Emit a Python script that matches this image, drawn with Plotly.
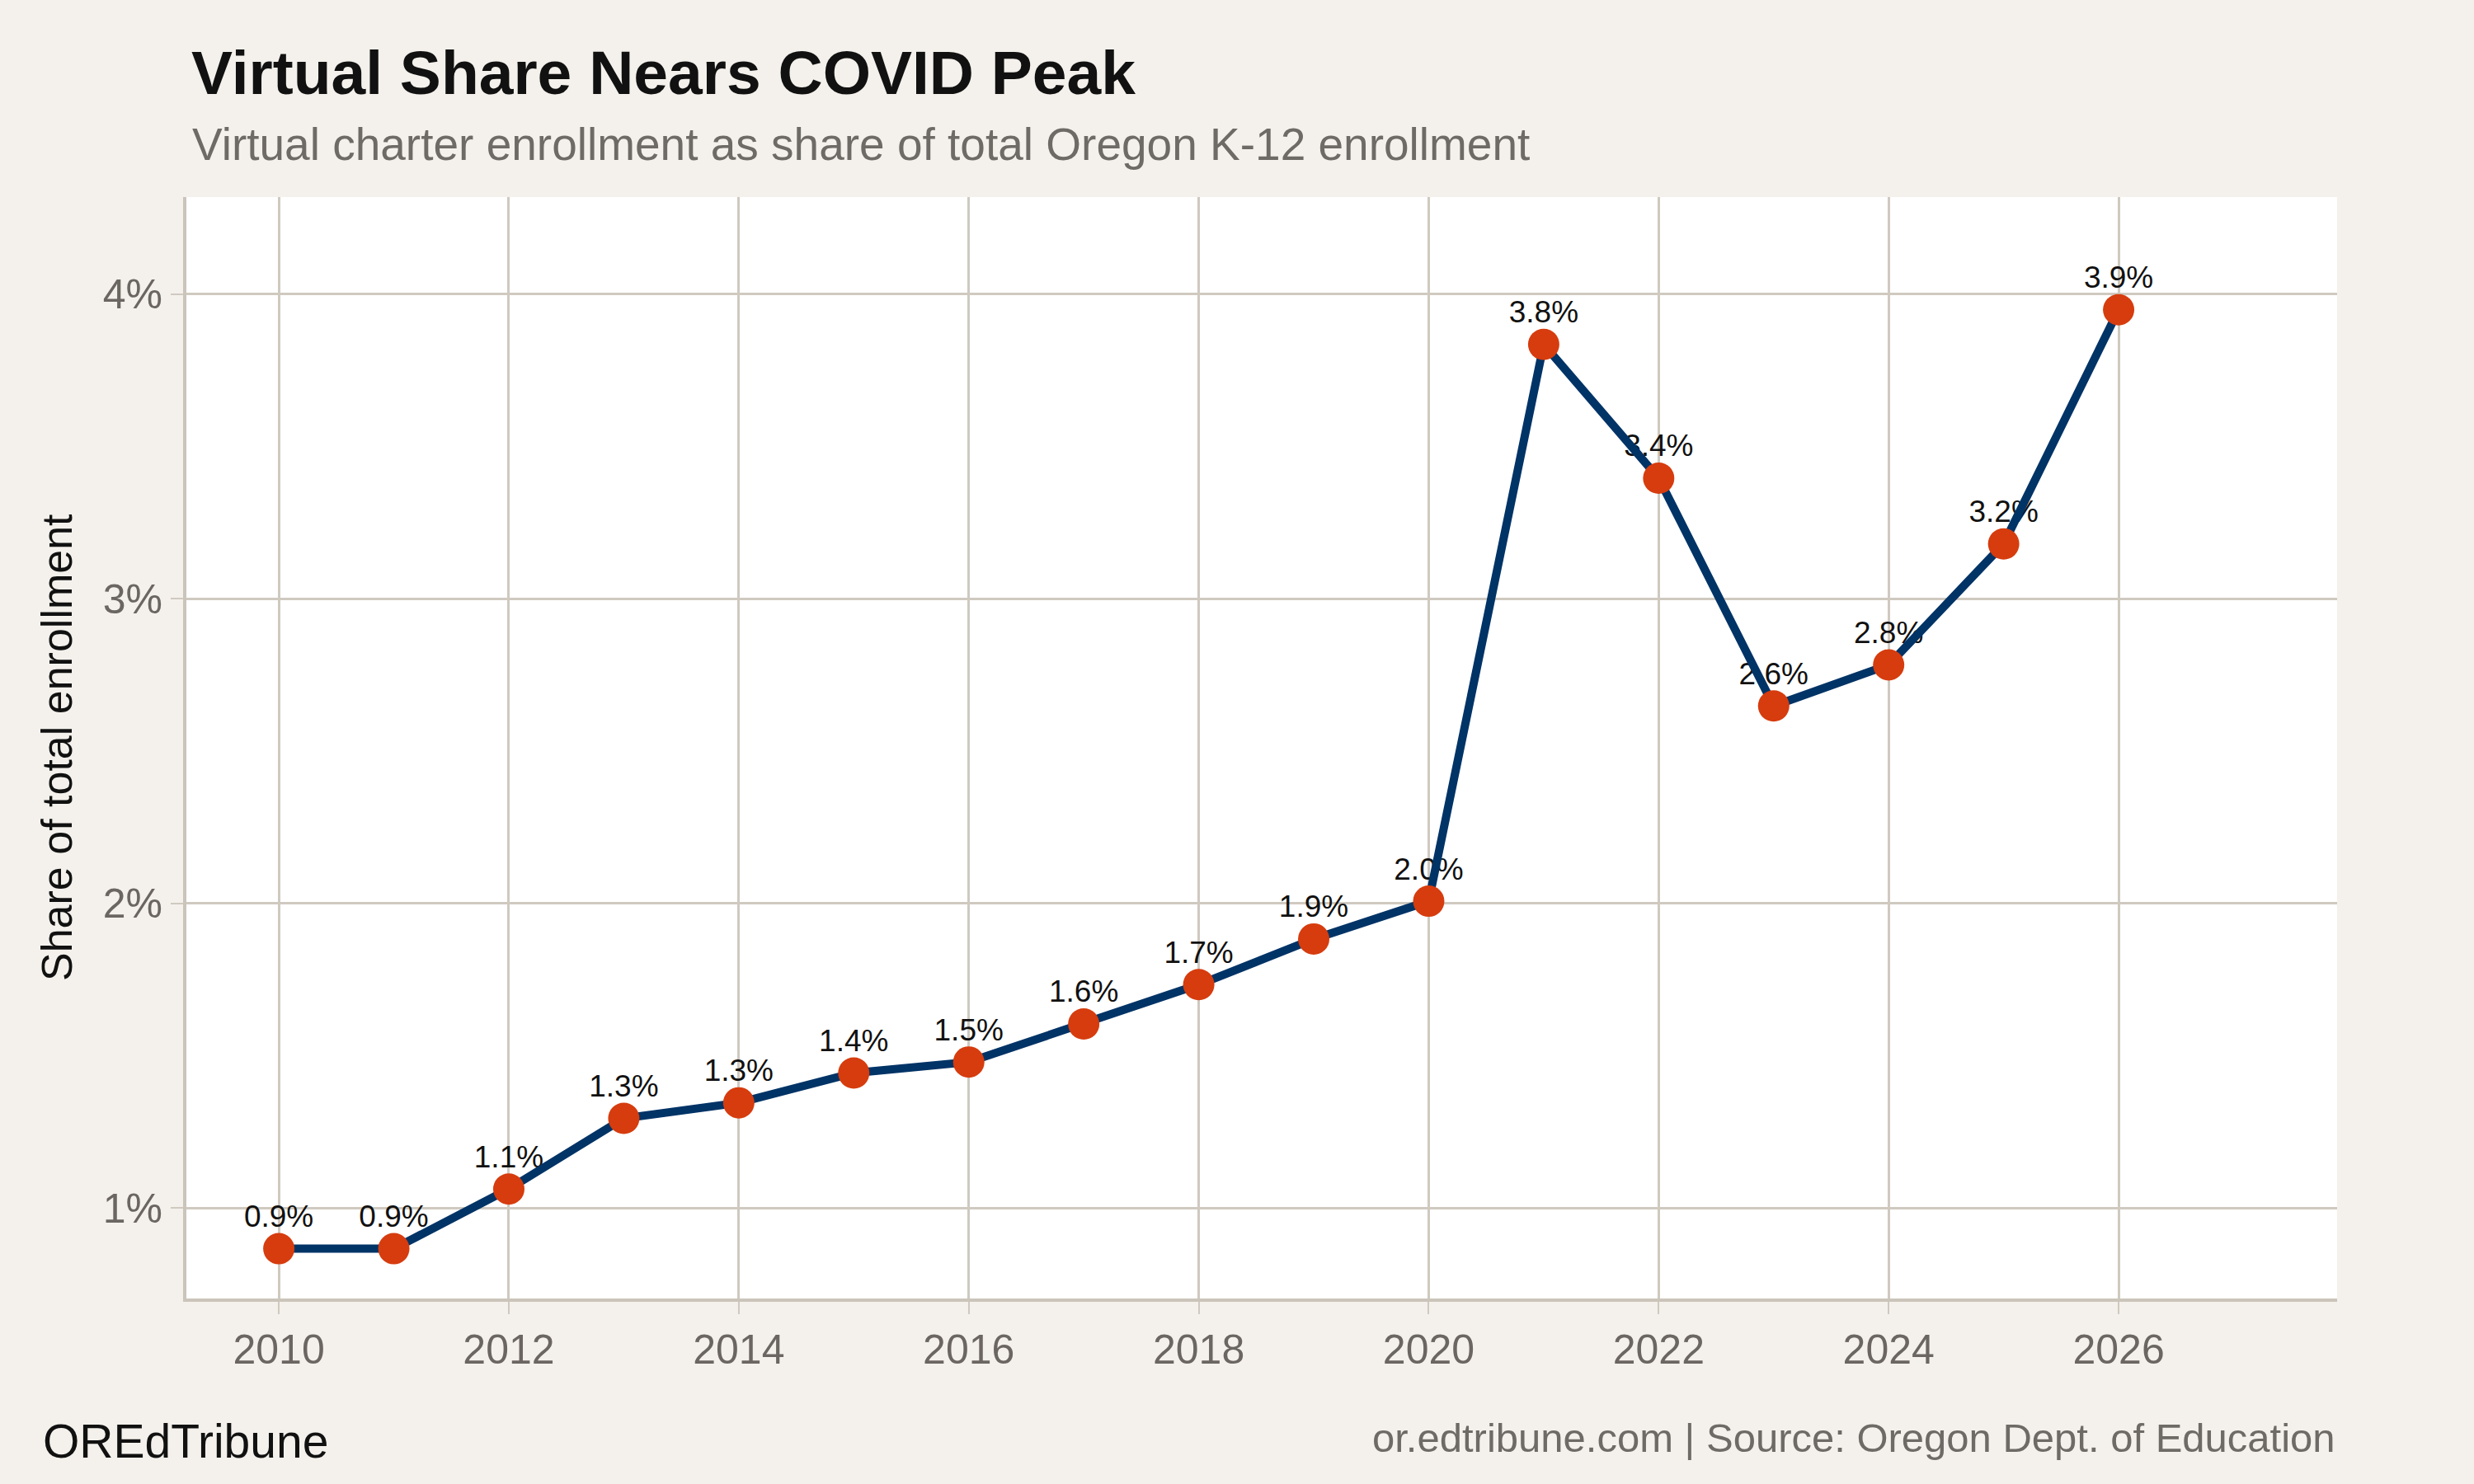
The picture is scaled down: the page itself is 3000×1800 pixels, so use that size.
import plotly.graph_objects as go

years = [2010, 2011, 2012, 2013, 2014, 2015, 2016, 2017, 2018, 2019, 2020,
         2021, 2022, 2023, 2024, 2025, 2026]
share_pct = [0.866, 0.866, 1.062, 1.294, 1.345, 1.443, 1.479, 1.604, 1.733,
             1.883, 2.007, 3.835, 3.396, 2.648, 2.783, 3.180, 3.949]
labels = [f"{v:.1f}%" for v in share_pct]
x_ticks = [2010, 2012, 2014, 2016, 2018, 2020, 2022, 2024, 2026]
y_ticks = [1, 2, 3, 4]
y_tick_text = ["1%", "2%", "3%", "4%"]

FONT = "Liberation Sans, Arial, Helvetica, sans-serif"
BG = "#F4F1EC"
GRID = "#CFC9C0"
AXIS = "#CBC4BA"
TICKCOL = "#6B6661"
NAVY = "#003366"
ORANGE = "#D63C0E"

W, H = 3000, 1800
L, R, T, B = 226, 2834, 239, 1575
PW, PH = R - L, B - T


def px(xp):
    return (xp - L) / PW


def py(yp):
    return (B - yp) / PH


fig = go.Figure()

# labels first so the line is drawn over them
fig.add_trace(go.Scatter(
    x=years, y=share_pct, mode="markers+text", text=labels,
    textposition="top center",
    textfont=dict(family=FONT, size=37, color="#111111"),
    marker=dict(size=26, opacity=0),
    hoverinfo="skip", showlegend=False,
))

fig.add_trace(go.Scatter(
    x=years, y=share_pct, mode="lines+markers",
    line=dict(color=NAVY, width=10),
    marker=dict(size=38, color=ORANGE, line=dict(width=0)),
    showlegend=False,
))

fig.update_layout(
    width=W, height=H,
    margin=dict(l=L, r=W - R, t=T, b=H - B, pad=0),
    paper_bgcolor=BG, plot_bgcolor="white",
    font=dict(family=FONT),
    xaxis=dict(
        range=[2009.196, 2027.9], tickvals=x_ticks,
        showgrid=True, gridcolor=GRID, gridwidth=2.5,
        showline=True, linecolor=AXIS, linewidth=4,
        ticks="outside", ticklen=15, tickwidth=2, tickcolor=GRID,
        tickfont=dict(family=FONT, size=50, color=TICKCOL),
        zeroline=False,
    ),
    yaxis=dict(
        range=[0.7025, 4.319], tickvals=y_ticks, ticktext=y_tick_text,
        showgrid=True, gridcolor=GRID, gridwidth=2.5,
        showline=True, linecolor=AXIS, linewidth=4,
        ticks="outside", ticklen=15, tickwidth=2, tickcolor=GRID,
        tickfont=dict(family=FONT, size=50, color=TICKCOL),
        zeroline=False,
    ),
    annotations=[
        dict(text="<b>Virtual Share Nears COVID Peak</b>", xref="paper", yref="paper",
             x=px(230), y=py(88), xanchor="left", yanchor="middle", showarrow=False,
             font=dict(family=FONT, size=75, color="#111111")),
        dict(text="Virtual charter enrollment as share of total Oregon K-12 enrollment",
             xref="paper", yref="paper", x=px(231), y=py(175),
             xanchor="left", yanchor="middle", showarrow=False,
             font=dict(family=FONT, size=55, color="#6E6A66")),
        dict(text="Share of total enrollment", xref="paper", yref="paper",
             x=px(69), y=0.5, xanchor="center", yanchor="middle", textangle=-90,
             showarrow=False, font=dict(family=FONT, size=52, color="#111111")),
        dict(text="OREdTribune", xref="paper", yref="paper",
             x=px(50), y=py(1748), xanchor="left", yanchor="middle", showarrow=False,
             font=dict(family=FONT, size=57, color="#111111")),
        dict(text="or.edtribune.com | Source: Oregon Dept. of Education",
             xref="paper", yref="paper", x=px(2834), y=py(1744),
             xanchor="right", yanchor="middle", showarrow=False,
             font=dict(family=FONT, size=49, color="#6E6A66")),
    ],
)

fig.write_html(
    "out.html",
    config={"displayModeBar": False},
    post_script="document.body.style.margin='0';document.body.style.padding='0';"
                "document.body.style.background='" + BG + "';",
)
